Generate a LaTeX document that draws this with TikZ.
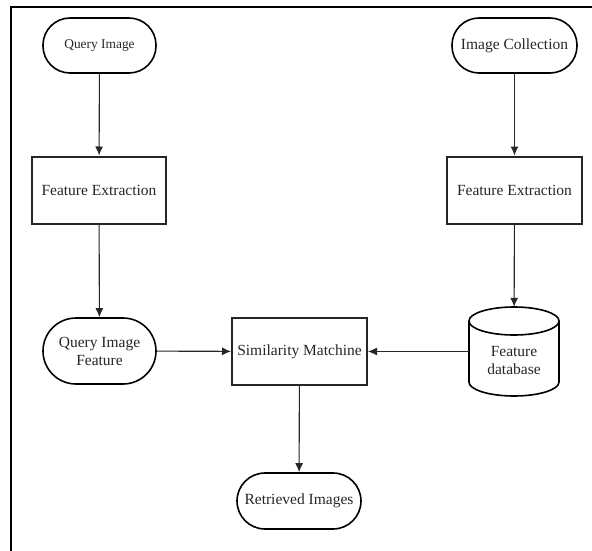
\documentclass[tikz,border=0pt]{standalone}
\usepackage{fontspec}
\setmainfont{Liberation Serif}
\newfontfamily\tnr{Liberation Serif}
\usetikzlibrary{arrows.meta}
\begin{document}
\begin{tikzpicture}[x=1pt,y=-1pt,
  txt/.style={text=black!85, font=\tnr\fontsize{15.5}{18}\selectfont, align=center, inner sep=0pt},
  terminal/.style={txt, draw=black, line width=1.6pt, minimum height=55pt, rounded corners=27pt},
  procbox/.style={txt, draw=black!85, line width=2pt, minimum width=134pt, minimum height=67pt},
  arr/.style={draw=black!85, line width=1.1pt, -{Latex[length=9pt,width=8pt]}},
  frame/.style={draw=black, line width=2.4pt}
]
\useasboundingbox (0,0) rectangle (592,551);
\draw[frame] (11,551) -- (11,7) -- (592,7);

% nodes
\node[terminal, minimum width=113pt, font=\tnr\fontsize{13.4}{16}\selectfont] (qi) at (99.5,45.5) {Query Image};
\node[procbox] (fe1) at (99,190) {Feature Extraction};
\node[terminal, minimum width=113pt, minimum height=66pt, rounded corners=33pt] (qif) at (99.5,351) {Query Image\\Feature};
\node[procbox, minimum width=135pt] (sm) at (299.5,351.5) {Similarity Matchine};
\node[terminal, minimum width=124pt, minimum height=56pt, rounded corners=28pt] (ri) at (299,501) {Retrieved Images};
\node[terminal, minimum width=125pt] (ic) at (514.5,45.5) {Image Collection};
\node[procbox, minimum width=135pt] (fe2) at (514.5,190) {Feature Extraction};

% cylinder
\node[inner sep=0pt, minimum width=90pt, minimum height=89pt] (db) at (514,351.5) {};
\draw[line width=1.6pt, black] (469,321) -- (469,382)
  arc[start angle=180, end angle=360, x radius=45pt, y radius=14pt] -- (559,321);
\draw[line width=1.6pt, black] (514,321) ellipse [x radius=45pt, y radius=14pt];
\node[txt] (dbt) at (514,360) {Feature\\database};

% connectors
\draw[arr] (qi) -- (fe1);
\draw[arr] (fe1) -- (qif);
\draw[arr] (qif) -- (sm);
\draw[arr] (sm) -- (ri);
\draw[arr] (ic) -- (fe2);
\draw[arr] (fe2) -- (db);
\draw[arr] (db.west) -- (sm.east);
\end{tikzpicture}
\end{document}
